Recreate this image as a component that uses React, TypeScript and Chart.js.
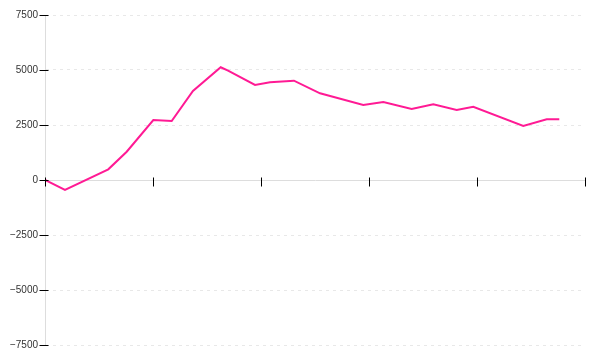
import React, { useEffect, useRef } from "react";
import { Chart, registerables } from "chart.js";

Chart.register(...registerables);

const xValues = [0, 3.7, 11.72, 15.13, 20.06, 23.46, 27.4, 32.54, 33.9, 38.89, 41.67, 46.1, 50.93, 58.94, 62.65, 67.9, 71.9, 76.24, 79.31, 88.57, 92.91, 95.24];
const yValues = [0, -455, 486, 1286, 2727, 2682, 4045, 5123, 4968, 4318, 4441, 4514, 3941, 3409, 3545, 3227, 3441, 3182, 3332, 2455, 2759, 2759];
const yTicks = [-7500, -5000, -2500, 0, 2500, 5000, 7500];
const xTicks = [0, 20, 40, 60, 80, 100];

const crossTicks = {
  id: "crossTicks",
  afterDraw(chart: any) {
    const { ctx, scales } = chart;
    const xs = scales.x;
    const ys = scales.y;
    ctx.save();
    ctx.strokeStyle = "#000";
    ctx.lineWidth = 1;
    const axisX = Math.round(xs.getPixelForValue(0)) + 0.5;
    const axisY = Math.round(ys.getPixelForValue(0)) + 0.5;
    ctx.beginPath();
    for (const v of yTicks) {
      const py = Math.round(ys.getPixelForValue(v)) + 0.5;
      ctx.moveTo(axisX - 6, py);
      ctx.lineTo(axisX + 3, py);
    }
    for (const v of xTicks) {
      const px = Math.round(xs.getPixelForValue(v)) + 0.5;
      ctx.moveTo(px, axisY - 3);
      ctx.lineTo(px, axisY + 6);
    }
    ctx.stroke();
    ctx.restore();
  },
};

export default function App() {
  const ref = useRef<HTMLCanvasElement | null>(null);
  useEffect(() => {
    if (!ref.current) return;
    const chart = new Chart(ref.current, {
      type: "line",
      data: {
        datasets: [
          {
            data: xValues.map((x, i) => ({ x, y: yValues[i] })),
            borderColor: "#ff1a94",
            borderWidth: 2,
            pointRadius: 0,
            tension: 0,
            fill: false,
          },
        ],
      },
      options: {
        animation: false,
        responsive: false,
        maintainAspectRatio: false,
        layout: { padding: { top: 15, right: 15, bottom: 15, left: 0 } },
        plugins: { legend: { display: false }, tooltip: { enabled: false } },
        scales: {
          x: {
            type: "linear",
            min: 0,
            max: 100,
            position: { y: 0 } as any,
            afterBuildTicks: (s: any) => {
              s.ticks = xTicks.map((v) => ({ value: v }));
            },
            ticks: { display: false },
            grid: { display: false },
            border: { display: true, color: "#dddddd", width: 1 },
          },
          y: {
            min: -7500,
            max: 7500,
            afterBuildTicks: (s: any) => {
              s.ticks = yTicks.map((v) => ({ value: v }));
            },
            afterFit: (s: any) => {
              s.width = 45;
            },
            ticks: {
              padding: 7,
              color: "#333333",
              font: { family: "'Liberation Sans', Arial, sans-serif", size: 10 },
              callback: (v: any) => String(v).replace("-", "\u2212"),
            },
            grid: { color: "#e8e8e8", drawTicks: false, lineWidth: 1 },
            border: { display: true, color: "#dddddd", dash: [3, 4] },
          },
        },
      },
      plugins: [crossTicks],
    });
    return () => chart.destroy();
  }, []);
  return (
    <div style={{ position: "fixed", left: 0, top: 0, width: 600, height: 360, background: "#fff" }}>
      <canvas ref={ref} width={600} height={360} style={{ width: 600, height: 360 }} />
    </div>
  );
}
